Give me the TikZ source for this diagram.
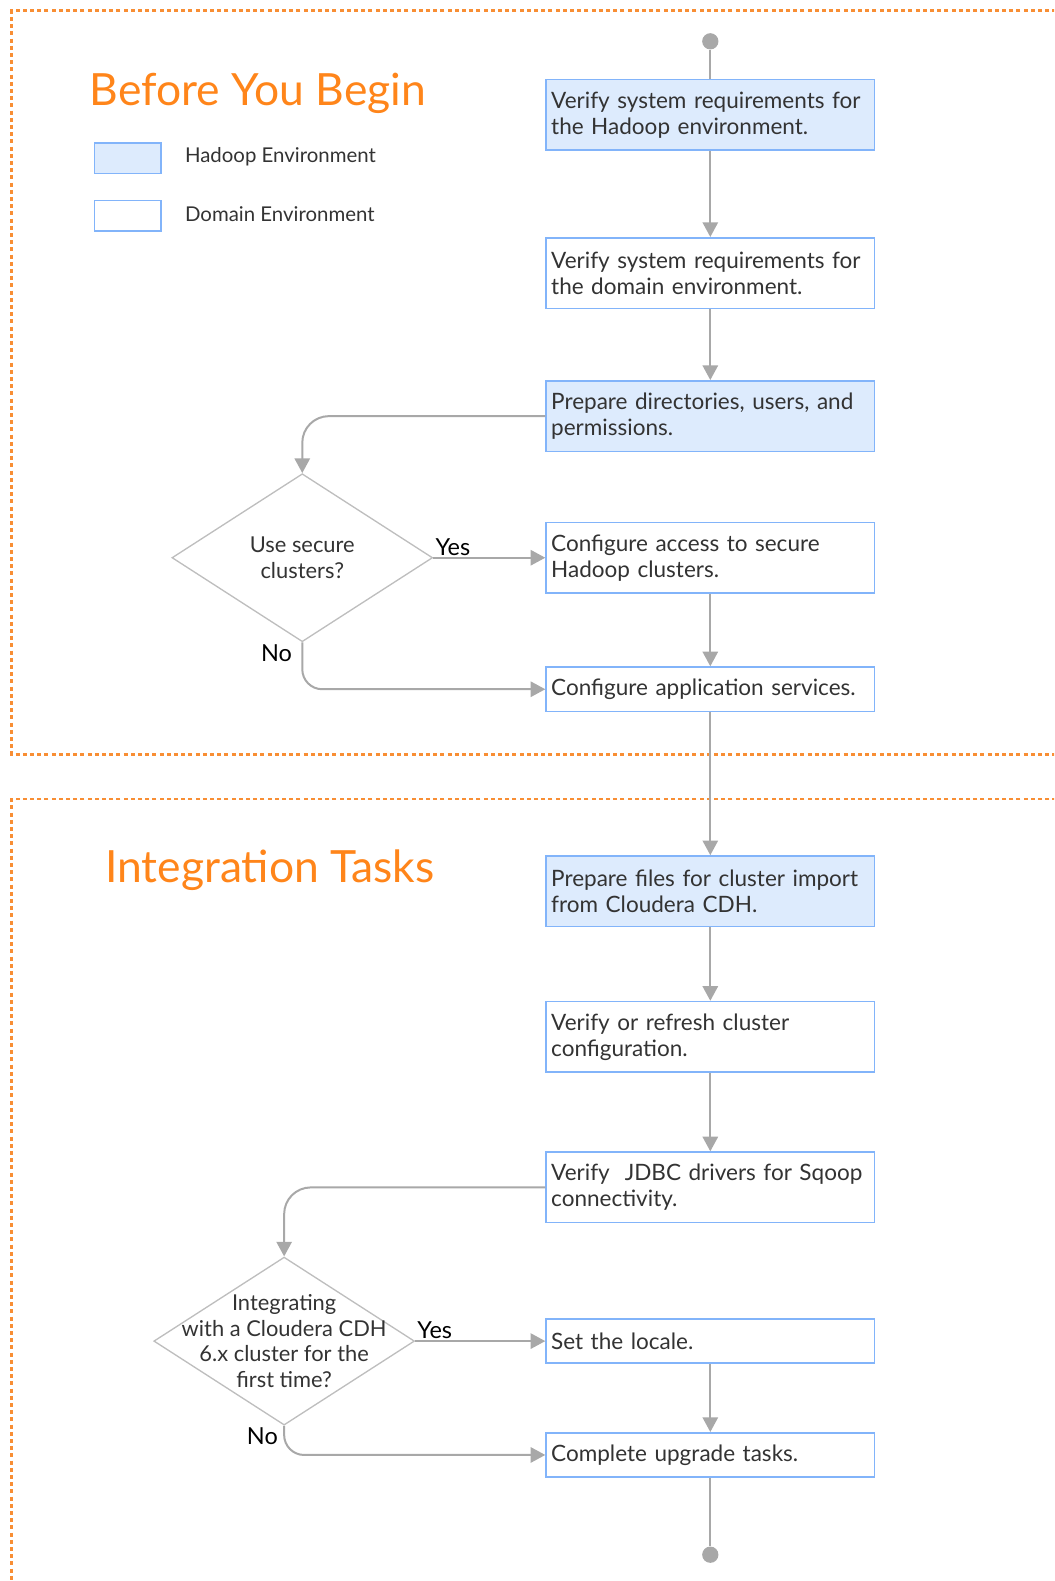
\documentclass[tikz,border=0pt]{standalone}
\usepackage{fontspec}
\setmainfont{Lato}
\usepackage{xcolor}
\usetikzlibrary{positioning, shapes, arrows.meta}

\definecolor{hadoopfill}{RGB}{221,235,253}
\definecolor{boxline}{RGB}{130,180,250}
\definecolor{flowgray}{RGB}{168,168,168}
\definecolor{diamondgray}{RGB}{190,190,190}
\definecolor{titleorange}{RGB}{255,133,26}
\definecolor{regionorange}{RGB}{248,142,52}
\definecolor{textgray}{RGB}{51,51,51}

\begin{document}
\begin{tikzpicture}[x=0.7556pt, y=-0.7556pt,
    task/.style={draw=boxline, line width=1.2pt, text=textgray, text width=238.7pt,
                 inner xsep=3.8pt, inner ysep=0pt, align=left, minimum height=52.9pt,
                 font=\fontsize{16.9}{19.6}\selectfont},
    hadoopbox/.style={task, fill=hadoopfill},
    domainbox/.style={task, fill=white},
    decision/.style={diamond, draw=diamondgray, line width=1pt, minimum width=195.5pt,
                     minimum height=126pt, inner sep=0pt},
    ask/.style={text=textgray, align=center, font=\fontsize{16.4}{19.4}\selectfont},
    dot/.style={circle, fill=flowgray, minimum size=12.2pt, inner sep=0pt},
    flow/.style={draw=flowgray, line width=1.5pt, -{Triangle[length=11pt,width=11.5pt]}},
    link/.style={draw=flowgray, line width=1.5pt},
    answer/.style={text=black, font=\fontsize{17.6}{20}\selectfont, inner sep=1pt},
    region/.style={draw=regionorange, line width=1.8pt, dash pattern=on 3pt off 2.4pt},
    heading/.style={text=titleorange, font=\fontsize{33.3}{40}\selectfont},
    legend/.style={text=textgray, anchor=west, font=\fontsize{15.3}{18}\selectfont}]
\useasboundingbox (0,0) rectangle (1046.2,1569.2);
\clip (0,0) rectangle (1046.2,1569.2);

% regions
\draw[region] (1070,10.5) -- (11.5,10.5) -- (11.5,749) -- (1070,749);
\draw[region] (1070,793) -- (11.5,793) -- (11.5,1600);
\node[heading] (begin) at (256,93) {Before You Begin};
\node[heading] (integ) at (268,864) {Integration Tasks};

% legend
\node[draw=boxline, line width=1.2pt, fill=hadoopfill, minimum width=49.9pt, minimum height=22.7pt] (keyh) at (127,157) {};
\node[draw=boxline, line width=1.2pt, fill=white, minimum width=49.9pt, minimum height=22.7pt] (keyd) at (127,214) {};
\node[legend] (keyhtext) at (179,156) {Hadoop Environment};
\node[legend] (keydtext) at (179,213) {Domain Environment};

% tasks
\node[dot] (start) at (705,41) {};
\node[hadoopbox, below of = start, node distance=55.16pt] (hreq) {Verify system requirements for\\the Hadoop environment.};
\node[domainbox, below of = hreq, node distance=118.63pt] (dreq) {Verify system requirements for\\the domain environment.};
\node[hadoopbox, below of = dreq, node distance=107.3pt] (dirs) {Prepare directories, users, and\\permissions.};
\node[domainbox, below of = dirs, node distance=106.2pt] (secure) {Configure access to secure\\Hadoop clusters.};
\node[domainbox, below of = secure, node distance=98.63pt, minimum height=33.25pt] (apps) {Configure application services.};
\node[hadoopbox, below of = apps, node distance=151.5pt] (files) {Prepare files for cluster import\\from Cloudera CDH.};
\node[domainbox, below of = files, node distance=109.2pt] (refresh) {Verify or refresh cluster\\configuration.};
\node[domainbox, below of = refresh, node distance=112.9pt] (jdbc) {Verify\ \ JDBC drivers for Sqoop\\connectivity.};
\node[domainbox, below of = jdbc, node distance=115.26pt, minimum height=33.25pt] (locale) {Set the locale.};
\node[domainbox, below of = locale, node distance=85.4pt, minimum height=33.25pt] (upgrade) {Complete upgrade tasks.};
\node[dot, below of = upgrade, node distance=74.8pt] (stop) {};

% decisions
\node[decision, left of = secure, node distance=306pt] (usesec) {};
\node[ask] at (usesec) {Use secure\\clusters?};
\node[decision, left of = locale, node distance=319.6pt] (first) {};
\node[ask] at (first) {Integrating\\with a Cloudera CDH\\6.x cluster for the\\first time?};

% connectors
\draw[link] (start) -- (hreq);
\draw[flow] (hreq) -- (dreq);
\draw[flow] (dreq) -- (dirs);
\draw[flow, rounded corners=20pt] (dirs) -| (usesec);
\draw[flow] (usesec) -- node[answer, pos=0, above right]{Yes} (secure);
\draw[flow, rounded corners=15pt] (usesec) |- node[answer, pos=0, below left, xshift=-6pt]{No} (apps);
\draw[flow] (secure) -- (apps);
\draw[flow] (apps) -- (files);
\draw[flow] (files) -- (refresh);
\draw[flow] (refresh) -- (jdbc);
\draw[flow, rounded corners=20pt] (jdbc) -| (first);
\draw[flow] (first) -- node[answer, pos=0, above right]{Yes} (locale);
\draw[flow, rounded corners=15pt] (first) |- node[answer, pos=0, below left, xshift=-3pt]{No} (upgrade);
\draw[flow] (locale) -- (upgrade);
\draw[link] (upgrade) -- (stop);
\end{tikzpicture}
\end{document}
